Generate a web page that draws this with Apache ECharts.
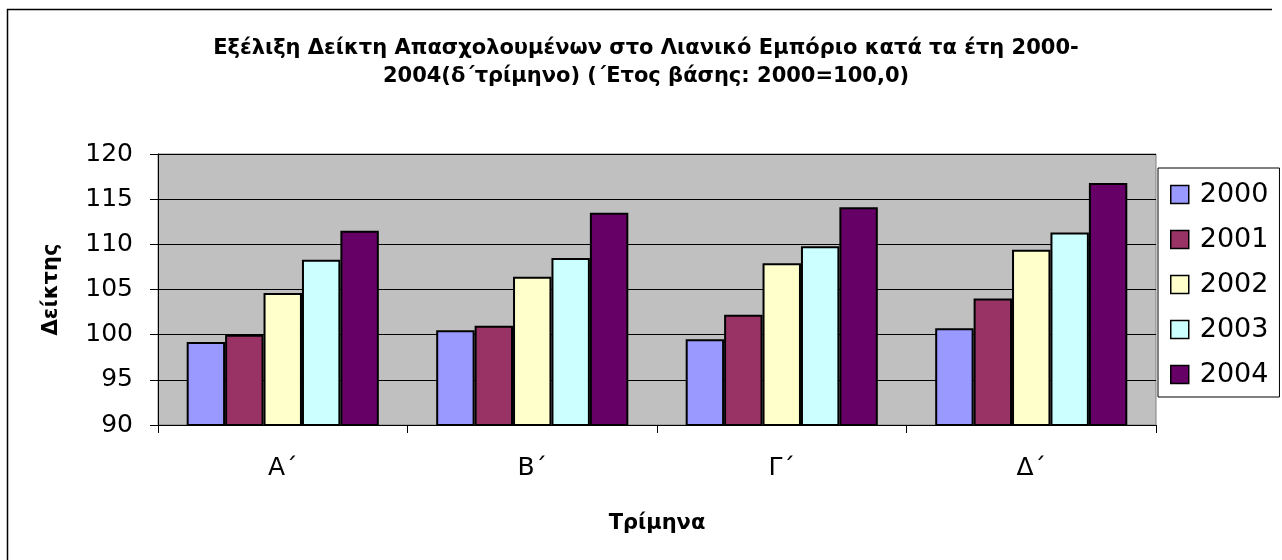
<!DOCTYPE html>
<html>
<head>
<meta charset="utf-8">
<script src="https://cdn.jsdelivr.net/npm/echarts@6/dist/echarts.min.js"></script>
<style>
html,body{margin:0;padding:0;background:#fff;}
#c{width:1282px;height:560px;}
</style>
</head>
<body>
<div id="c"></div>
<script>
const categories = ['Α΄', 'Β΄', 'Γ΄', 'Δ΄'];
const years = ['2000', '2001', '2002', '2003', '2004'];
const s2000 = [99.2, 100.5, 99.5, 100.7];
const s2001 = [100.0, 101.0, 102.2, 104.0];
const s2002 = [104.6, 106.4, 107.9, 109.4];
const s2003 = [108.3, 108.5, 109.8, 111.3];
const s2004 = [111.5, 113.5, 114.1, 116.8];
const seriesValues = [s2000, s2001, s2002, s2003, s2004];
const colors = ['#9999FF', '#993366', '#FFFFCC', '#CCFFFF', '#660066'];
const titleText = 'Εξέλιξη Δείκτη Απασχολουμένων στο Λιανικό Εμπόριο κατά τα έτη 2000-\n2004(δ΄τρίμηνο) (΄Ετος βάσης: 2000=100,0)';
const yName = 'Δείκτης';
const xName = 'Τρίμηνα';

const FONT = '"DejaVu Sans", "Liberation Sans", Arial, sans-serif';
const chart = echarts.init(document.getElementById('c'), null, {renderer: 'canvas'});
const option = {
  backgroundColor: '#ffffff',
  animation: false,
  title: {
    text: titleText,
    left: 641, top: 30, textAlign: 'center',
    textStyle: {fontFamily: FONT, fontWeight: 'bold', fontSize: 21, color: '#000', lineHeight: 28, align: 'center'}
  },
  legend: {
    orient: 'vertical',
    left: 1158, top: 168,
    padding: [13, 11, 9, 12],
    itemGap: 18,
    itemWidth: 18, itemHeight: 18,
    icon: 'rect',
    borderColor: '#000', borderWidth: 1,
    backgroundColor: '#fff',
    itemStyle: {borderColor: '#000', borderWidth: 1.5},
    textStyle: {fontFamily: FONT, fontSize: 27, color: '#000', padding: [0, 0, 0, 6]},
    data: years
  },
  grid: {left: 158, right: 126, top: 154, bottom: 135, show: true, backgroundColor: '#C0C0C0', borderColor: '#808080', borderWidth: 1},
  xAxis: {
    type: 'category',
    data: categories,
    name: xName,
    nameLocation: 'middle',
    nameGap: 88,
    nameTextStyle: {fontFamily: FONT, fontWeight: 'bold', fontSize: 21, color: '#000'},
    axisLine: {lineStyle: {color: '#000', width: 1}},
    axisTick: {show: true, length: 8, lineStyle: {color: '#000'}},
    axisLabel: {fontFamily: FONT, fontSize: 25, color: '#000', margin: 31}
  },
  yAxis: {
    type: 'value',
    min: 90, max: 120, interval: 5,
    name: yName,
    nameLocation: 'middle',
    nameGap: 96,
    nameRotate: 90,
    nameTextStyle: {fontFamily: FONT, fontWeight: 'bold', fontSize: 21, color: '#000'},
    axisLine: {show: true, lineStyle: {color: '#000', width: 1}},
    axisTick: {show: true, length: 8, inside: false, lineStyle: {color: '#000'}},
    axisLabel: {fontFamily: FONT, fontSize: 25, color: '#000', margin: 25},
    splitLine: {show: true, lineStyle: {color: '#000', width: 1}}
  },
  series: years.map((y, i) => ({
    name: y,
    type: 'bar',
    data: seriesValues[i],
    barGap: '0%',
    barCategoryGap: '23%',
    itemStyle: {color: colors[i], borderColor: '#000', borderWidth: 2}
  })),
  graphic: [{
    type: 'polyline',
    shape: {points: [[7.5, 570], [7.5, 9.5], [1272, 9.5]]},
    style: {stroke: '#000', lineWidth: 1.5, fill: null},
    silent: true
  }]
};
chart.setOption(option);
</script>
</body>
</html>
